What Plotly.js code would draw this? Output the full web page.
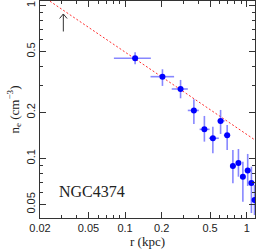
<!DOCTYPE html>
<html>
<head>
<meta charset="utf-8">
<script src="https://cdn.plot.ly/plotly-3.0.1.min.js"></script>
<style>html,body{margin:0;padding:0;background:#fff;}#plot{width:258px;height:249px;}</style>
</head>
<body>
<div id="plot"></div>
<script>
// radius (kpc) and its bin edges
const r      = [0.121, 0.203, 0.286, 0.368, 0.449, 0.527, 0.610, 0.691, 0.770, 0.855, 0.930, 1.019, 1.093, 1.160];
const rLow   = [0.081, 0.162, 0.242, 0.328, 0.410, 0.489, 0.576, 0.649, 0.730, 0.815, 0.885, 0.975, 1.052, 1.120];
const rHigh  = [0.163, 0.253, 0.328, 0.404, 0.495, 0.590, 0.658, 0.732, 0.815, 0.896, 0.975, 1.063, 1.136, 1.200];
// electron density (cm^-3) and its error range
const ne     = [0.452, 0.3425, 0.2845, 0.206, 0.155, 0.1355, 0.176, 0.1418, 0.0893, 0.0935, 0.0760, 0.0835, 0.0692, 0.0535];
const neLow  = [0.413, 0.298, 0.2474, 0.168, 0.1288, 0.108, 0.1446, 0.1137, 0.0689, 0.0760, 0.0522, 0.0661, 0.0440, 0.0427];
const neHigh = [0.494, 0.383, 0.326, 0.2437, 0.1896, 0.1613, 0.2075, 0.1656, 0.1137, 0.1153, 0.0953, 0.1070, 0.0884, 0.0671];
// red dashed reference line
const modelR  = [0.02, 1.17];
const modelNe = [1.18, 0.132];
// arrow marker position
const arrowR = 0.0311, arrowNe = 0.88;
// ticks
const xTicks = [0.02, 0.05, 0.1, 0.2, 0.5, 1];
const xTickText = ['0.02', '0.05', '0.1', '0.2', '0.5', '1'];
const xMinor = [0.03, 0.04, 0.06, 0.07, 0.08, 0.09, 0.3, 0.4, 0.6, 0.7, 0.8, 0.9];
const yTicks = [0.05, 0.1, 0.2, 0.5, 1];
const yTickText = ['0.05', '0.1', '0.2', '0.5', '1'];
const yMinor = [0.06, 0.07, 0.08, 0.09, 0.3, 0.4, 0.6, 0.7, 0.8, 0.9];
const label = 'NGC4374';

const serif = "'Liberation Serif', 'Times New Roman', serif";
const sans = "'Liberation Sans', Arial, sans-serif";
const errCol = 'rgba(70,70,255,0.65)';
const traces = [
  {x: modelR, y: modelNe, mode: 'lines', line: {color: '#ff3030', width: 1, dash: '2px,2px'}, hoverinfo: 'skip'},
  {x: r, y: ne, mode: 'markers',
   marker: {color: '#0000ff', size: 6},
   error_x: {type: 'data', symmetric: false, array: r.map((v,i)=>rHigh[i]-v), arrayminus: r.map((v,i)=>v-rLow[i]), color: errCol, thickness: 1.6, width: 0},
   error_y: {type: 'data', symmetric: false, array: ne.map((v,i)=>neHigh[i]-v), arrayminus: ne.map((v,i)=>v-neLow[i]), color: errCol, thickness: 1.6, width: 0}}
];

const axisCommon = {
  type: 'log', showgrid: false, zeroline: false,
  showline: true, linecolor: '#333', linewidth: 1, mirror: 'ticks',
  ticks: 'inside', ticklen: 6, tickcolor: '#333', tickwidth: 1,
  tickfont: {family: sans, size: 11, color: '#222'},
  automargin: false
};

const arrowX = Math.log10(arrowR), arrowY = Math.log10(arrowNe);
const layout = {
  width: 258, height: 249,
  margin: {l: 40, r: 3, t: 1, b: 31},
  paper_bgcolor: '#fff', plot_bgcolor: '#fff',
  showlegend: false,
  xaxis: Object.assign({}, axisCommon, {
    range: [Math.log10(0.02), Math.log10(1.17)],
    tickmode: 'array', tickvals: xTicks, ticktext: xTickText,
    minor: {tickmode: 'array', tickvals: xMinor, ticklen: 3, ticks: 'inside', tickcolor: '#333'},
    title: {text: 'r (kpc)', font: {family: serif, size: 13, color: '#222'}, standoff: 2}
  }),
  yaxis: Object.assign({}, axisCommon, {
    range: [Math.log10(0.0408), Math.log10(1.07)],
    tickmode: 'array', tickvals: yTicks, ticktext: yTickText, tickangle: -90,
    minor: {tickmode: 'array', tickvals: yMinor, ticklen: 3, ticks: 'inside', tickcolor: '#333'},
    title: {text: 'n<sub>e</sub> (cm<sup>−3</sup>)', font: {family: serif, size: 13, color: '#222'}, standoff: 2}
  }),
  annotations: [
    {xref: 'paper', yref: 'paper', x: 0.08, y: 0.12, xanchor: 'left', yanchor: 'middle', text: label, showarrow: false,
     font: {family: serif, size: 16, color: '#222'}},
    {xref: 'x', yref: 'y', x: arrowX, y: arrowY, ax: 0, ay: 19, text: '',
     showarrow: true, arrowhead: 0, arrowwidth: 1, arrowcolor: '#333'},
    {xref: 'x', yref: 'y', x: arrowX, y: arrowY, ax: -5, ay: 6, text: '',
     showarrow: true, arrowhead: 0, arrowwidth: 1, arrowcolor: '#333'},
    {xref: 'x', yref: 'y', x: arrowX, y: arrowY, ax: 5, ay: 6, text: '',
     showarrow: true, arrowhead: 0, arrowwidth: 1, arrowcolor: '#333'}
  ]
};

Plotly.newPlot('plot', traces, layout, {staticPlot: true, displayModeBar: false});
</script>
</body>
</html>
